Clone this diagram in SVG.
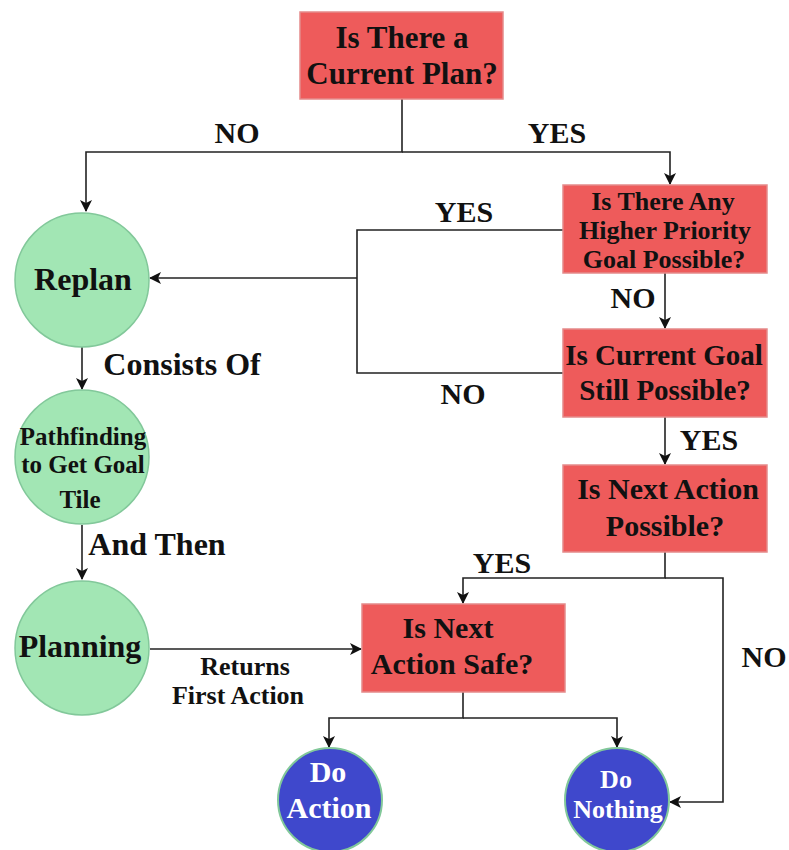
<svg xmlns="http://www.w3.org/2000/svg" width="789" height="850" viewBox="0 0 789 850">
  <defs>
    <marker id="arrow" viewBox="0 0 12 12" refX="11" refY="6" markerWidth="12" markerHeight="12" markerUnits="userSpaceOnUse" orient="auto">
      <path d="M0,0 L12,6 L0,12 L3,6 Z" fill="#111"/>
    </marker>
    <style>
      .box { fill: #ee5b5b; stroke: #e58a8a; stroke-width: 1.5; }
      .green { fill: #a2e6b4; stroke: #82c89a; stroke-width: 1.5; }
      .blue { fill: #3f48cc; stroke: #82c89a; stroke-width: 2; }
      .t { font-family: "Liberation Serif", "Times New Roman", serif; font-weight: bold; fill: #111; text-anchor: middle; }
      .w { fill: #ffffff; }
      .edge { fill: none; stroke: #222; stroke-width: 1.6; }
      .arr { marker-end: url(#arrow); }
    </style>
  </defs>
  <rect width="789" height="850" fill="#ffffff"/>

  <!-- connectors -->
  <g id="connectors">
    <path class="edge arr" d="M402,99 V152 H86 V211"/>
    <path class="edge arr" d="M402,152 H670 V184"/>
    <path class="edge" d="M563,230 H357 V373 H563"/>
    <path class="edge arr" d="M357,278 H150"/>
    <path class="edge arr" d="M665,273 V328"/>
    <path class="edge arr" d="M665,417 V464"/>
    <path class="edge arr" d="M665,552 V578 H463 V603"/>
    <path class="edge arr" d="M665,578 H723 V802 H670"/>
    <path class="edge arr" d="M82,347 V389"/>
    <path class="edge arr" d="M82,525 V579"/>
    <path class="edge arr" d="M150,649 H361"/>
    <path class="edge arr" d="M463,692 V718 H329 V747"/>
    <path class="edge arr" d="M463,718 H617 V747"/>
  </g>

  <!-- edge labels -->
  <g id="labels" class="t" font-size="30">
    <text x="237" y="143">NO</text>
    <text x="557" y="143">YES</text>
    <text x="464" y="222">YES</text>
    <text x="633" y="308">NO</text>
    <text x="463" y="404">NO</text>
    <text x="709" y="450">YES</text>
    <text x="502" y="573">YES</text>
    <text x="764" y="667">NO</text>
    <text x="182" y="375" font-size="32">Consists Of</text>
    <text x="157" y="555" font-size="32">And Then</text>
    <text x="245" y="675" font-size="26">Returns</text>
    <text x="238" y="704" font-size="26">First Action</text>
  </g>

  <g id="current-plan">
    <rect class="box" x="300" y="12" width="203" height="87"/>
    <text class="t" x="402" y="48" font-size="31">Is There a</text>
    <text class="t" x="402" y="84" font-size="31">Current Plan?</text>
  </g>

  <g id="higher-priority">
    <rect class="box" x="563" y="185" width="204" height="88"/>
    <text class="t" x="663" y="210" font-size="26">Is There Any</text>
    <text class="t" x="665" y="239" font-size="26">Higher Priority</text>
    <text class="t" x="664" y="268" font-size="26">Goal Possible?</text>
  </g>

  <g id="goal-possible">
    <rect class="box" x="563" y="329" width="204" height="88"/>
    <text class="t" x="664" y="365" font-size="29">Is Current Goal</text>
    <text class="t" x="665" y="400" font-size="29">Still Possible?</text>
  </g>

  <g id="action-possible">
    <rect class="box" x="563" y="465" width="204" height="87"/>
    <text class="t" x="668" y="499" font-size="30">Is Next Action</text>
    <text class="t" x="665" y="536" font-size="30">Possible?</text>
  </g>

  <g id="action-safe">
    <rect class="box" x="362" y="604" width="203" height="88"/>
    <text class="t" x="448" y="638" font-size="30">Is Next</text>
    <text class="t" x="452" y="674" font-size="30">Action Safe?</text>
  </g>

  <g id="replan">
    <circle class="green" cx="82" cy="280" r="67"/>
    <text class="t" x="83" y="290" font-size="32">Replan</text>
  </g>

  <g id="pathfinding">
    <circle class="green" cx="82" cy="457" r="67"/>
    <text class="t" x="83" y="445" font-size="25">Pathfinding</text>
    <text class="t" x="83" y="473" font-size="25">to Get Goal</text>
    <text class="t" x="80" y="508" font-size="25">Tile</text>
  </g>

  <g id="planning">
    <circle class="green" cx="82" cy="648" r="67"/>
    <text class="t" x="80" y="657" font-size="32">Planning</text>
  </g>

  <g id="do-action">
    <circle class="blue" cx="330" cy="800" r="52"/>
    <text class="t w" x="328" y="782" font-size="30">Do</text>
    <text class="t w" x="329" y="818" font-size="30">Action</text>
  </g>

  <g id="do-nothing">
    <circle class="blue" cx="617" cy="800" r="52"/>
    <text class="t w" x="616" y="788" font-size="26">Do</text>
    <text class="t w" x="618" y="818" font-size="26">Nothing</text>
  </g>
</svg>
